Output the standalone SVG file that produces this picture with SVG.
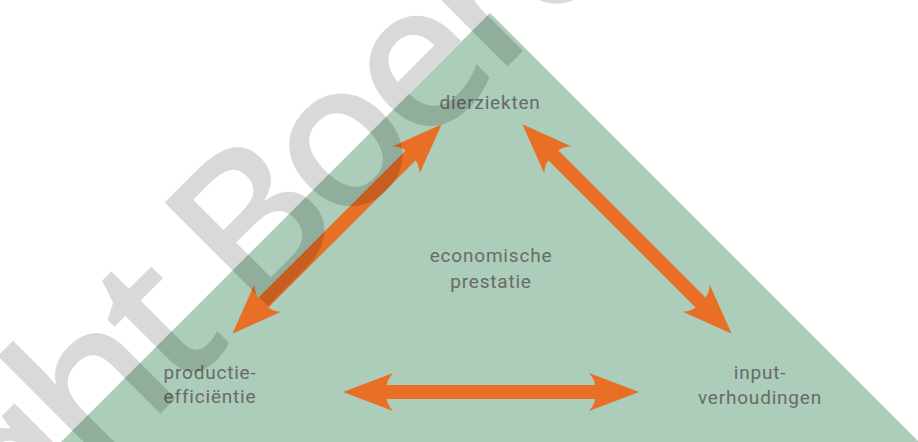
<svg xmlns="http://www.w3.org/2000/svg" width="918" height="442" viewBox="0 0 918 442">
  <style>
    .lbl { font-family: Roboto, "Liberation Sans", sans-serif; font-size: 19px; fill: #6a6a6a; text-anchor: middle; letter-spacing: 0.8px; }
    .arrow { fill: #e96f26; }
    .wm { font-family: "Noto Sans", "Open Sans", "Liberation Sans", sans-serif; font-size: 205px; font-weight: 500; letter-spacing: -12px; fill: #000000; fill-opacity: 0.15; }
  </style>
  <defs>
    <path id="dbl" d="M -148 0 L -98 -19 Q -104 -12 -104 -7 L 104 -7 Q 104 -12 98 -19 L 148 0 L 98 19 Q 104 12 104 7 L -104 7 Q -104 12 -98 19 Z"/>
  </defs>
  <rect x="0" y="0" width="918" height="442" fill="#ffffff"/>
  <g id="background">
    <polygon points="490,13 61,442 919,442" fill="#abcdb9"/>
  </g>
  <g id="connectors">
    <use href="#dbl" class="arrow" transform="translate(337,229) rotate(-45)"/>
    <use href="#dbl" class="arrow" transform="translate(627,229) rotate(45)"/>
    <use href="#dbl" class="arrow" transform="translate(491,392)"/>
  </g>
  <g id="node-dierziekten">
    <text class="lbl" x="490" y="109">dierziekten</text>
  </g>
  <g id="node-economische-prestatie">
    <text class="lbl" x="491" y="262">economische</text>
    <text class="lbl" x="491" y="288">prestatie</text>
  </g>
  <g id="node-productie-efficientie">
    <text class="lbl" x="210" y="379">productie-</text>
    <text class="lbl" x="210" y="403">efficiëntie</text>
  </g>
  <g id="node-inputverhoudingen">
    <text class="lbl" x="760" y="379">input-</text>
    <text class="lbl" x="760" y="404">verhoudingen</text>
  </g>
  <g id="watermark">
    <text class="wm" transform="translate(236,338) rotate(-45)" x="-870" y="0">Copyright Boerderij</text>
  </g>
</svg>
